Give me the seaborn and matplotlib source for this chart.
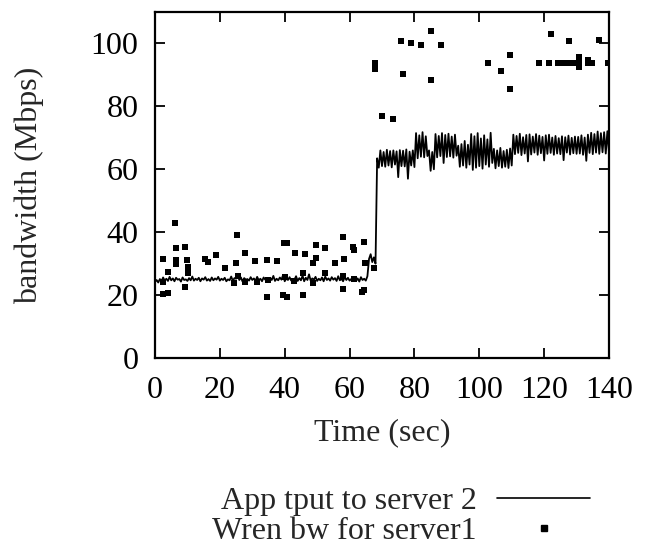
import numpy as np
import pandas as pd
import matplotlib
matplotlib.use("Agg")
import matplotlib.pyplot as plt
import seaborn as sns
from matplotlib.lines import Line2D

# ---- data: application throughput to server 2 (sampled every 0.5 s) ----
app_step = 0.5
app_tput = [
    24.2, 24.8, 24.0, 25.1, 24.4, 25.6, 24.6, 25.2, 24.5, 25.8,
    24.7, 25.3, 24.4, 25.5, 24.9, 25.1, 24.3, 25.6, 24.8, 25.0,
    24.5, 25.4, 24.7, 25.9, 24.6, 25.2, 24.8, 25.5, 24.4, 25.3,
    24.9, 25.7, 24.6, 25.1, 24.5, 25.6, 24.7, 25.3, 24.9, 25.8,
    24.6, 25.2, 24.8, 25.5, 24.4, 25.0, 24.7, 25.9, 24.5, 25.4,
    25.2, 26.3, 24.8, 25.6, 24.3, 25.4, 24.9, 25.1, 24.6, 25.7,
    24.8, 25.3, 24.5, 25.8, 24.7, 25.2, 24.4, 25.6, 24.9, 25.3,
    24.6, 25.5, 24.8, 26.1, 24.5, 25.2, 24.7, 25.6, 24.9, 26.4,
    24.4, 25.3, 24.8, 25.7, 24.6, 25.1, 24.9, 26.0, 24.5, 25.4,
    24.7, 26.2, 24.4, 25.5, 24.8, 26.6, 24.6, 25.3, 24.9, 25.8,
    24.5, 25.2, 24.7, 25.6, 24.4, 25.9, 24.8, 25.3, 24.6, 25.7,
    24.9, 25.4, 24.5, 26.0, 24.7, 25.2, 24.4, 25.8, 24.8, 25.5,
    24.6, 25.1, 24.9, 25.6, 24.5, 25.3, 24.3, 25.7, 24.8, 25.2,
    24.6, 26.0, 31.5, 33.0, 30.5, 32.0, 30.0,
    63.5, 60.5, 66.0, 61.0, 65.5, 60.8, 66.2, 61.2,
    65.8, 60.6, 66.0, 61.5, 65.7, 57.5, 66.1, 61.0,
    65.9, 60.9, 66.3, 57.0, 65.6, 61.2, 66.0, 60.7,
    71.5, 63.5, 70.8, 64.0, 71.8, 63.8, 70.5, 64.2,
    66.0, 59.5, 65.5, 60.0,
    71.2, 63.8, 70.6, 64.2, 71.5, 62.0, 70.9, 63.9, 71.3, 64.1, 70.4, 63.7, 71.0, 64.3,
    67.5, 60.8, 68.0, 61.2, 69.0, 60.5, 67.8, 61.5,
    71.2, 59.8, 70.5, 60.5, 71.5, 61.0, 69.8, 60.2, 70.8, 61.5, 69.5, 60.8, 71.6, 62.0,
    66.5, 60.3, 66.0, 61.0, 66.8, 60.5, 65.8, 60.8, 66.2, 60.4, 66.6, 61.2,
    71.0, 64.8, 70.6, 65.2, 71.3, 64.5, 70.2, 65.0, 70.9, 62.5,
    71.1, 64.7, 70.4, 65.3, 71.2, 64.6, 70.7, 65.1, 70.3, 62.8,
    70.8, 64.9, 71.0, 65.2, 70.1, 64.6, 70.6, 65.0, 69.9, 64.8,
    70.5, 62.9, 70.2, 65.3, 70.7, 64.7, 70.0, 65.1, 70.4, 64.9,
    70.3, 65.0, 70.8, 64.6, 70.1, 62.7, 71.0, 65.2, 71.6, 64.8,
    71.2, 65.3, 72.0, 64.9, 71.5, 65.4, 71.8, 65.0, 72.1, 65.3,
]
app_time = np.arange(len(app_tput)) * app_step

# ---- data: Wren bandwidth estimates for server 1 ----
wren_time = [
    2.4, 2.4, 2.4, 4.0, 4.0, 6.1, 6.5, 6.5, 6.5, 9.2, 9.9, 10.2, 10.2, 9.3,
    15.5, 16.3, 18.8, 21.5, 25.3, 25.0, 27.7, 25.6, 24.3, 27.7, 30.7, 31.5,
    34.5, 34.5, 34.7, 37.5, 39.9, 40.6, 43.2, 46.3, 49.6, 49.6, 48.8, 52.4,
    55.5, 58.1, 58.3, 61.2, 61.5, 64.5, 64.8, 45.7, 52.4, 57.9, 61.5, 48.8,
    43.0, 57.9, 64.3, 63.8, 39.6, 40.6, 45.7, 67.5, 40.1,
    67.8, 67.8, 69.9, 73.3, 75.8, 78.8, 81.9, 76.4, 85.0, 85.0, 88.1,
    102.8, 106.6, 109.5, 109.5, 122.0, 127.6, 137.0,
    118.5, 121.4, 124.4, 125.7, 127.1, 128.5, 129.8, 130.7, 130.7, 130.7,
    133.6, 133.6, 134.7, 139.8,
]
wren_bw = [
    31.5, 24.2, 20.5, 20.8, 27.2, 43.0, 35.0, 31.0, 30.0, 35.3, 31.1, 29.0, 26.9, 22.6,
    31.5, 30.6, 32.6, 28.7, 39.1, 30.3, 33.4, 26.2, 23.7, 24.2, 30.9, 24.2,
    31.1, 19.5, 24.8, 30.9, 36.6, 36.6, 33.4, 33.0, 35.9, 31.8, 30.1, 35.0,
    30.3, 38.5, 31.4, 35.3, 34.3, 36.9, 30.3, 27.1, 26.9, 26.2, 25.0, 23.7,
    24.4, 21.9, 21.6, 21.0, 20.0, 19.3, 20.0, 28.5, 25.6,
    93.7, 92.0, 76.8, 75.9, 100.7, 100.3, 99.4, 90.2, 104.1, 88.3, 99.4,
    93.7, 91.2, 96.3, 85.5, 102.9, 100.7, 101.0,
    93.7, 93.7, 93.7, 93.7, 93.7, 93.7, 93.7, 93.7, 95.7, 92.5,
    93.7, 94.6, 93.7, 93.7,
]

x_ticks = [0, 20, 40, 60, 80, 100, 120, 140]
y_ticks = [0, 20, 40, 60, 80, 100]
label_app = "App tput to server 2"
label_wren = "Wren bw for server1"

app_df = pd.DataFrame({"time": app_time, "bw": app_tput})
wren_df = pd.DataFrame({"time": wren_time, "bw": wren_bw})

sns.set_style("ticks")
plt.rcParams["font.family"] = ["Liberation Serif", "DejaVu Serif"]
plt.rcParams["font.size"] = 23

fig = plt.figure(figsize=(6.55, 5.47), dpi=100)
ax = fig.add_axes([155 / 655, (547 - 358) / 547, 454 / 655, 346 / 547])

sns.lineplot(data=app_df, x="time", y="bw", ax=ax, color="black", linewidth=1.3,
             estimator=None, sort=False, legend=False)
sns.scatterplot(data=wren_df, x="time", y="bw", ax=ax, color="black", marker="s",
                s=24, linewidth=0, legend=False)

ax.set_xlim(0, 140)
ax.set_ylim(0, 110)
ax.set_xticks(x_ticks)
ax.set_yticks(y_ticks)
ax.tick_params(axis="both", which="major", direction="in", length=7, width=1.3,
               top=True, right=True, labelsize=23, color="black", labelcolor="black")
ax.tick_params(axis="x", pad=13)
ax.tick_params(axis="y", pad=12)
for sp in ax.spines.values():
    sp.set_linewidth(1.6)
    sp.set_color("black")
    sp.set_visible(True)

ax.set_xlabel("Time (sec)", fontsize=23)
ax.set_ylabel("bandwidth (Mbps)", fontsize=23)
ax.xaxis.set_label_coords(0.5, -0.175)
ax.yaxis.set_label_coords(-0.245, 0.5)

handles = [Line2D([], [], color="black", linewidth=1.2),
           Line2D([], [], color="black", marker="s", linestyle="none", markersize=4.5)]
fig.legend(handles, [label_app, label_wren], loc="upper right",
           bbox_to_anchor=(590 / 655, 1 - 487 / 547), markerfirst=False,
           frameon=False, fontsize=23, handlelength=2.9, handletextpad=0.65,
           labelspacing=0.02, borderpad=0, borderaxespad=0, numpoints=1)

fig.savefig("out.png", dpi=100)
